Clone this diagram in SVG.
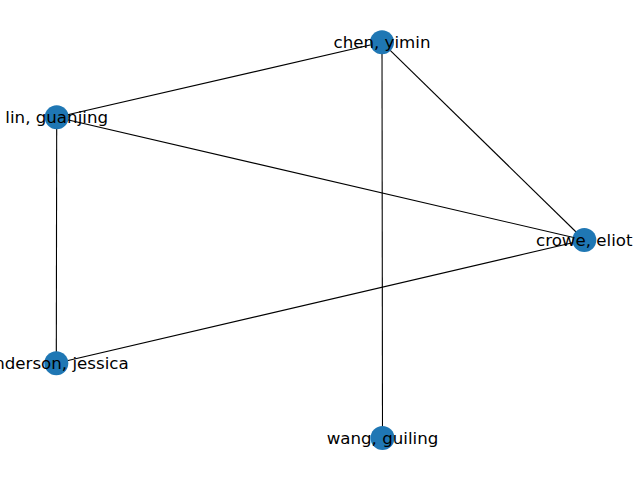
<svg xmlns="http://www.w3.org/2000/svg" width="640" height="480" viewBox="0 0 640 480">
<style>
.edge{stroke:#000;stroke-width:1.1;fill:none}
.node circle{fill:#1f77b4}
.node text{font-family:"DejaVu Sans",sans-serif;font-size:16.67px;fill:#000;text-anchor:middle;dominant-baseline:central}
</style>
<rect width="640" height="480" fill="#fff"/>
<g id="connectors">
<line class="edge" x1="382" y1="42.3" x2="56.7" y2="117.3"/>
<line class="edge" x1="382" y1="42.3" x2="584.3" y2="240"/>
<line class="edge" x1="382" y1="42.3" x2="382.5" y2="438"/>
<line class="edge" x1="56.7" y1="117.3" x2="584.3" y2="240"/>
<line class="edge" x1="56.7" y1="117.3" x2="56.3" y2="363.3"/>
<line class="edge" x1="56.3" y1="363.3" x2="584.3" y2="240"/>
</g>
<g id="node-chen" class="node"><circle cx="382" cy="42.3" r="12"/><text x="382" y="42.3">chen, yimin</text></g>
<g id="node-lin" class="node"><circle cx="56.7" cy="117.3" r="12"/><text x="56.7" y="117.3">lin, guanjing</text></g>
<g id="node-crowe" class="node"><circle cx="584.3" cy="240" r="12"/><text x="584.3" y="240">crowe, eliot</text></g>
<g id="node-anderson" class="node"><circle cx="56.3" cy="363.3" r="12"/><text x="56.3" y="363.3">anderson, jessica</text></g>
<g id="node-wang" class="node"><circle cx="382.5" cy="438" r="12"/><text x="382.5" y="438">wang, guiling</text></g>
</svg>
